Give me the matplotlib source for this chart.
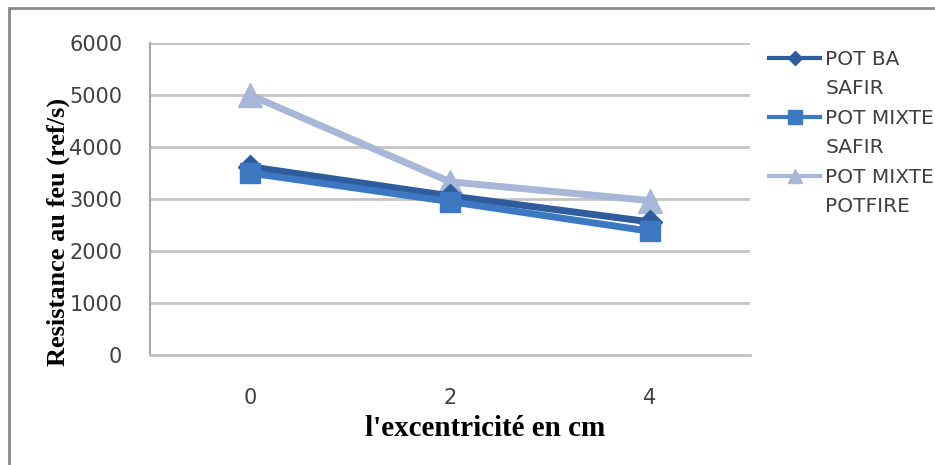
import matplotlib
matplotlib.use("Agg")
import matplotlib.pyplot as plt
from matplotlib.lines import Line2D
from matplotlib.patches import Rectangle

# Eccentricity categories (cm) and fire resistance of each pot type
categories = ["0", "2", "4"]
pot_ba_safir = [3620, 3060, 2560]
pot_mixte_safir = [3500, 2950, 2380]
pot_mixte_potfire = [5000, 3330, 2970]

series_labels = [("POT BA", "SAFIR"), ("POT MIXTE", "SAFIR"), ("POT MIXTE", "POTFIRE")]
y_ticks = [0, 1000, 2000, 3000, 4000, 5000, 6000]

c_ba = "#2f5c9c"
c_mixte = "#3d79c3"
c_fire = "#a8b7d8"
grid_c = "#c4c4c4"
text_c = "#404040"

W, H = 935, 465
fig = plt.figure(figsize=(W / 100, H / 100), dpi=100)
fig.patch.set_facecolor("white")

ax = fig.add_axes([150 / W, 1 - 355 / H, 600 / W, (355 - 43) / H])
x = list(range(len(categories)))

ax.plot(x, pot_mixte_potfire, color=c_fire, lw=5, marker="^", ms=17,
        solid_capstyle="butt", zorder=3)
ax.plot(x, pot_ba_safir, color=c_ba, lw=5, marker="D", ms=12,
        solid_capstyle="butt", zorder=4)
ax.plot(x, pot_mixte_safir, color=c_mixte, lw=5, marker="s", ms=15,
        solid_capstyle="butt", zorder=5)

ax.set_xlim(-0.5, len(categories) - 0.5)
ax.set_ylim(0, 6000)
ax.set_xticks(x)
ax.set_xticklabels(categories)
ax.set_yticks(y_ticks)
ax.set_yticklabels([str(v) for v in y_ticks])

ax.yaxis.grid(True, color=grid_c, lw=2)
ax.set_axisbelow(True)
for s in ("top", "right"):
    ax.spines[s].set_visible(False)
ax.spines["left"].set_color("#a6a6a6")
ax.spines["left"].set_linewidth(1.5)
ax.spines["bottom"].set_color(grid_c)
ax.spines["bottom"].set_linewidth(2)
ax.tick_params(axis="both", length=0, colors=text_c, labelsize=15)
ax.tick_params(axis="y", pad=20)
ax.tick_params(axis="x", pad=24)

ax.set_ylabel("Resistance au feu (ref/s)", family="Liberation Serif",
              fontweight="bold", fontsize=19, color="black", va="center")
ax.yaxis.set_label_coords(-0.153, 0.394)
ax.set_xlabel("l'excentricité en cm", family="Liberation Serif",
              fontweight="bold", fontsize=21, color="black", va="center")
ax.xaxis.set_label_coords(0.558, -0.234)

# Legend: each series on two text rows, handle beside the first row
blank = Line2D([], [], linestyle="none")
handles = [
    Line2D([], [], color=c_ba, lw=3, marker="D", ms=7), blank,
    Line2D([], [], color=c_mixte, lw=3, marker="s", ms=10), blank,
    Line2D([], [], color=c_fire, lw=3, marker="^", ms=10), blank,
]
labels = [t for pair in series_labels for t in pair]
leg = fig.legend(handles, labels, loc="upper left",
                 bbox_to_anchor=(769 / W, 1 - 50 / H),
                 frameon=False, fontsize=14.5, handlelength=2.55,
                 handletextpad=0.25, labelspacing=0.52, borderpad=0,
                 borderaxespad=0)
for t in leg.get_texts():
    t.set_color(text_c)

# Outer chart frame
fig.patches.append(Rectangle((9 / W, -0.1), 1.2, 1 - 8 / H + 0.1,
                             transform=fig.transFigure, fill=False,
                             edgecolor="#8a8a8a", lw=2))

fig.savefig("out.png", dpi=100)
